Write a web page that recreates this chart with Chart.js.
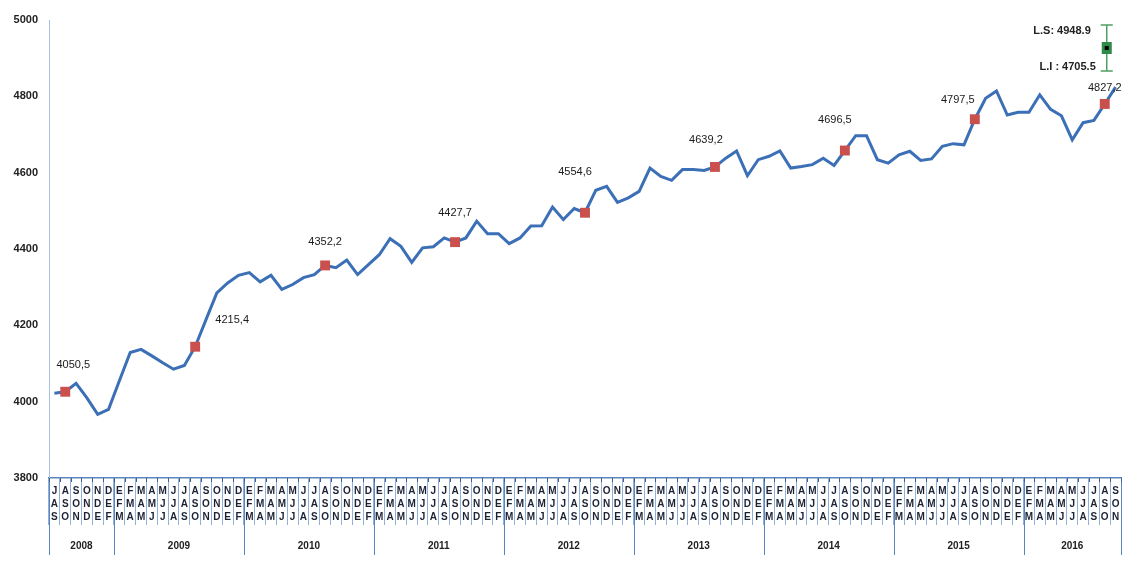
<!DOCTYPE html>
<html>
<head>
<meta charset="utf-8">
<script src="https://cdn.jsdelivr.net/npm/chart.js@4/dist/chart.umd.min.js"></script>
<style>
  html, body { margin: 0; padding: 0; background: #fff; }
  #wrap { width: 1130px; height: 568px; }
</style>
</head>
<body>
<div id="wrap"><canvas id="C"></canvas></div>
<script>
// iniciales de los meses (E = enero)
const monthInitials = ["E", "F", "M", "A", "M", "J", "J", "A", "S", "O", "N", "D"];
const years = ["2008", "2009", "2010", "2011", "2012", "2013", "2014", "2015", "2016"];
const periodsPerYear = [6, 12, 12, 12, 12, 12, 12, 12, 9];
const firstMonth = 6; // JAS 2008

// trimestre movil, valores
const values = [
  4022, 4026, 4048, 4010, 3967, 3980, 4055, 4129, 4137, 4120, 4102, 4085,
  4095, 4144, 4215, 4285, 4311, 4331, 4338, 4314, 4331, 4294, 4307, 4325,
  4333, 4357, 4351, 4371, 4333, 4359, 4385, 4427, 4407, 4365, 4403, 4406,
  4429, 4418, 4429, 4473, 4440, 4440, 4414, 4429, 4460, 4461, 4510, 4477,
  4506, 4495, 4554, 4564, 4522, 4534, 4551, 4612, 4590, 4580, 4608, 4608,
  4606, 4615, 4638, 4657, 4592, 4634, 4643, 4657, 4612, 4616, 4621, 4638,
  4619, 4658, 4697, 4697, 4634, 4625, 4647, 4656, 4632, 4636, 4669, 4676,
  4673, 4740, 4795, 4814, 4751, 4758, 4758, 4804, 4766, 4749, 4686, 4731,
  4737, 4780, 4824
];

const markerIndex = [1, 13, 25, 37, 49, 61, 73, 85, 97];
const markerLabels = ["4050,5", "4215,4", "4352,2", "4427,7", "4554,6", "4639,2", "4696,5", "4797,5", "4827,2"];
const labelOffsets = [[8, -27], [37, -27], [0, -23], [0, -29], [-10, -41], [-9, -27], [-10, -31], [-17, -19], [0, -16]];

const limSup = 4948.9;
const limInf = 4705.5;

const yTicks = [3800, 4000, 4200, 4400, 4600, 4800, 5000];

const labels = values.map((v, i) => {
  const m = firstMonth + i;
  return [monthInitials[m % 12], monthInitials[(m + 1) % 12], monthInitials[(m + 2) % 12]];
});
const markerData = values.map((v, i) => markerIndex.includes(i) ? v : null);

const FONT = "'Liberation Sans', Arial, sans-serif";

const extras = {
  id: "extras",
  afterDatasetsDraw(chart) {
    const ctx = chart.ctx;
    const xs = chart.scales.x;
    const area = chart.chartArea;
    const meta = chart.getDatasetMeta(0);
    ctx.save();

    // etiquetas de los puntos rojos
    ctx.font = "11px " + FONT;
    ctx.fillStyle = "#1a1a1a";
    ctx.textAlign = "center";
    ctx.textBaseline = "middle";
    markerIndex.forEach((idx, k) => {
      const p = meta.data[idx];
      ctx.fillText(markerLabels[k], p.x + labelOffsets[k][0], p.y + labelOffsets[k][1]);
    });

    // intervalo de prediccion
    const ex = xs.getPixelForValue(97) + 2;
    const top = area.top + 5;
    const bot = area.top + 51;
    const mid = (top + bot) / 2;
    ctx.strokeStyle = "#4f9e62";
    ctx.lineWidth = 1.5;
    ctx.beginPath();
    ctx.moveTo(ex, top); ctx.lineTo(ex, bot);
    ctx.moveTo(ex - 6, top); ctx.lineTo(ex + 6, top);
    ctx.moveTo(ex - 6, bot); ctx.lineTo(ex + 6, bot);
    ctx.stroke();
    ctx.fillStyle = "#2f8a4a";
    ctx.fillRect(ex - 5, mid - 6, 10, 12);
    ctx.fillStyle = "#000";
    ctx.fillRect(ex - 2, mid - 2, 4, 4);
    ctx.font = "bold 11px " + FONT;
    ctx.fillStyle = "#222";
    ctx.textAlign = "right";
    ctx.fillText("L.S: " + limSup.toFixed(1), ex - 16, top + 6);
    ctx.fillText("L.I : " + limInf.toFixed(1), ex - 11, bot - 4);

    ctx.restore();
  },
  afterDraw(chart) {
    const ctx = chart.ctx;
    const xs = chart.scales.x;
    const area = chart.chartArea;
    const half = (xs.getPixelForValue(1) - xs.getPixelForValue(0)) / 2;
    ctx.save();
    // separadores de años
    ctx.strokeStyle = "#5a86c0";
    ctx.lineWidth = 1;
    ctx.font = "bold 10px " + FONT;
    ctx.fillStyle = "#222";
    ctx.textAlign = "center";
    ctx.textBaseline = "middle";
    let start = 0;
    const edges = [xs.getPixelForValue(0) - half];
    years.forEach((y, k) => {
      const end = start + periodsPerYear[k];
      const x0 = xs.getPixelForValue(start) - half;
      const x1 = xs.getPixelForValue(end - 1) + half;
      edges.push(x1);
      ctx.fillText(y, (x0 + x1) / 2, area.bottom + 68);
      start = end;
    });
    ctx.beginPath();
    edges.forEach(x => {
      ctx.moveTo(Math.round(x) + 0.5, area.bottom);
      ctx.lineTo(Math.round(x) + 0.5, area.bottom + 77);
    });
    ctx.stroke();
    // marca oscura arriba de cada separador
    ctx.strokeStyle = "#3d5f94";
    ctx.beginPath();
    for (let i = 0; i <= values.length; i++) {
      const x = Math.round(xs.getPixelForValue(i) - half) + 0.5;
      ctx.moveTo(x, area.bottom);
      ctx.lineTo(x, area.bottom + 4);
    }
    ctx.stroke();
    ctx.restore();
  }
};

new Chart(document.getElementById("C"), {
  type: "line",
  data: {
    labels: labels,
    datasets: [
      {
        data: markerData,
        showLine: false,
        pointStyle: "rect",
        pointRadius: 7,
        backgroundColor: "#c9504d",
        borderColor: "#c9504d",
        borderWidth: 0
      },
      {
        data: values,
        borderColor: "#3b6fb6",
        borderWidth: 3,
        pointRadius: 0,
        tension: 0
      }
    ]
  },
  options: {
    responsive: true,
    maintainAspectRatio: false,
    animation: false,
    layout: { padding: { top: 20, right: 9, bottom: 10, left: 0 } },
    plugins: { legend: { display: false }, tooltip: { enabled: false } },
    scales: {
      x: {
        offset: true,
        afterFit: s => { s.height = 80; },
        grid: {
          offset: true,
          drawOnChartArea: false,
          drawTicks: true,
          tickLength: 47,
          color: "#8fb0da",
          lineWidth: 1
        },
        border: { display: true, color: "#5a86c0", width: 1.5 },
        ticks: {
          autoSkip: false,
          maxRotation: 0,
          minRotation: 0,
          padding: -40,
          color: "#1d2233",
          font: { family: FONT, size: 10, weight: "bold", lineHeight: 1.3 }
        }
      },
      y: {
        min: 3800,
        max: 5000,
        afterFit: s => { s.width = 49; },
        afterBuildTicks: s => { s.ticks = yTicks.map(v => ({ value: v })); },
        grid: { display: false, drawTicks: false },
        border: { display: true, color: "#a9c1e0", dash: [2, 2], width: 1 },
        ticks: {
          padding: 11,
          color: "#222",
          callback: v => String(v),
          font: { family: FONT, size: 11, weight: "bold" }
        }
      }
    }
  },
  plugins: [extras]
});
</script>
</body>
</html>
